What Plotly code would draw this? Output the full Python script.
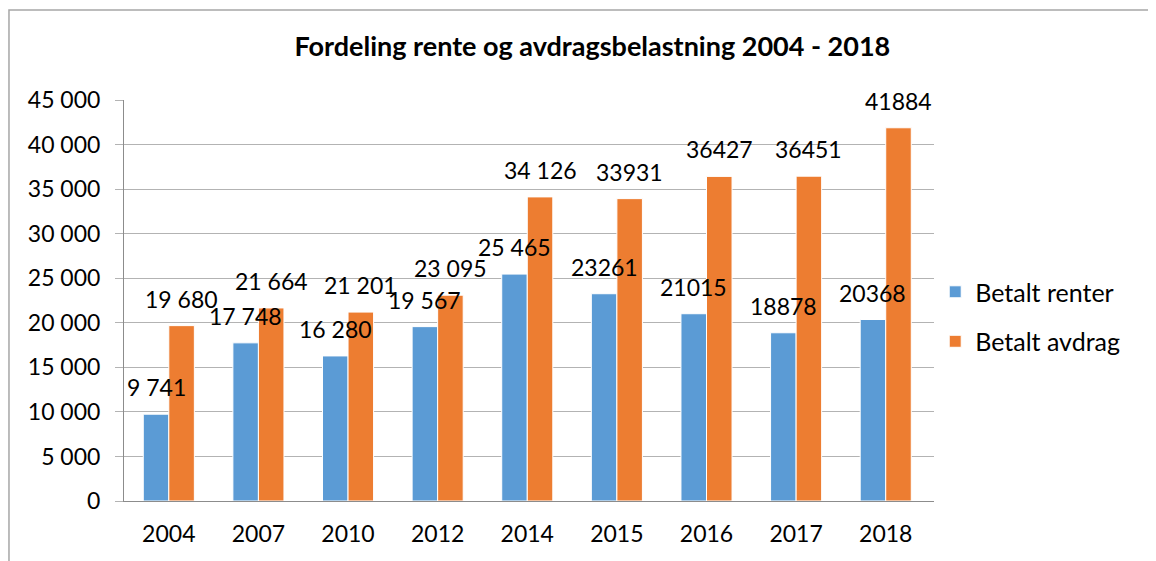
import plotly.graph_objects as go

years = ["2004", "2007", "2010", "2012", "2014", "2015", "2016", "2017", "2018"]
renter = [9741, 17748, 16280, 19567, 25465, 23261, 21015, 18878, 20368]
avdrag = [19680, 21664, 21201, 23095, 34126, 33931, 36427, 36451, 41884]
renter_labels = ["9 741", "17 748", "16 280", "19 567", "25 465", "23261", "21015", "18878", "20368"]
avdrag_labels = ["19 680", "21 664", "21 201", "23 095", "34 126", "33931", "36427", "36451", "41884"]

FONT = "Lato"
BLUE = "#5B9BD5"
ORANGE = "#ED7D31"
BARGAP = 0.43

fig = go.Figure()
fig.add_trace(go.Bar(x=years, y=renter, name="Betalt renter", marker_color=BLUE,
                     marker_line=dict(color="white", width=1), legendgroup="a"))
fig.add_trace(go.Bar(x=years, y=avdrag, name="Betalt avdrag", marker_color=ORANGE,
                     marker_line=dict(color="white", width=1), legendgroup="b"))

half = (1 - BARGAP) / 4
annotations = []
for i in range(len(years)):
    for vals, labs, sign in ((renter, renter_labels, -1), (avdrag, avdrag_labels, 1)):
        annotations.append(dict(x=i + sign * half, y=vals[i], xref="x", yref="y",
                                text=labs[i], showarrow=False, yanchor="bottom",
                                yshift=11, font=dict(family=FONT, size=23, color="black")))

fig.update_layout(
    width=1148, height=553,
    margin=dict(l=116, r=222, t=92, b=60),
    paper_bgcolor="white", plot_bgcolor="white",
    barmode="group", bargap=BARGAP, bargroupgap=0,
    separators=", ",
    title=dict(text="<b>Fordeling rente og avdragsbelastning 2004 - 2018</b>",
               x=0.509, xanchor="center", y=0.930, yanchor="middle",
               font=dict(family=FONT, size=27, color="black")),
    font=dict(family=FONT, size=23, color="black"),
    legend=dict(x=1.0015, y=0.46, xanchor="left", yanchor="middle",
                font=dict(family=FONT, size=25, color="black"),
                tracegroupgap=14, traceorder="grouped"),
    annotations=annotations,
    shapes=[dict(type="rect", xref="paper", yref="paper",
                 x0=-0.142, x1=1.3, y0=-0.2, y1=1.2244,
                 line=dict(color="#a6a6a6", width=1.5), layer="below")],
)
fig.update_yaxes(range=[0, 45000], dtick=5000, tickformat=",d",
                 showgrid=True, gridcolor="#b3b3b3", gridwidth=1,
                 showline=True, linecolor="#8c8c8c", linewidth=1,
                 ticks="outside", ticklen=8, tickcolor="#b3b3b3",
                 ticklabelstandoff=10, zeroline=False,
                 tickfont=dict(family=FONT, size=23, color="black"))
fig.update_xaxes(showline=True, linecolor="#8c8c8c", linewidth=1, ticks="",
                 ticklabelstandoff=12,
                 tickfont=dict(family=FONT, size=23, color="black"))

fig.write_html("out.html")
